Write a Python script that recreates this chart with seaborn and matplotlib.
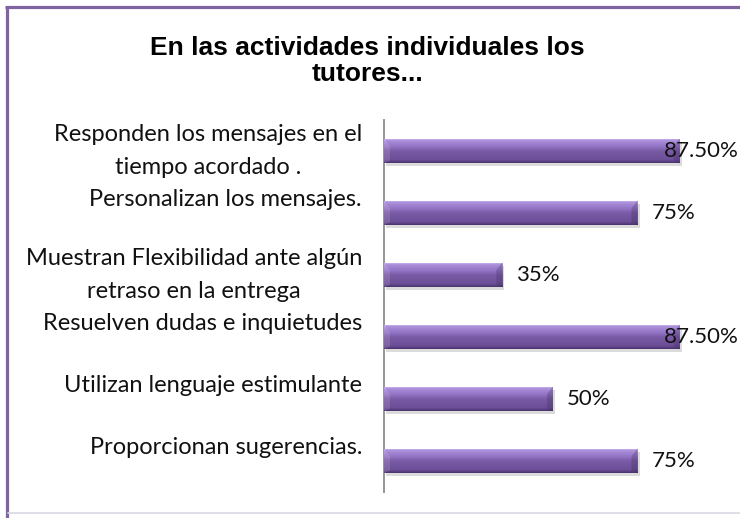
import numpy as np
import matplotlib
matplotlib.use("Agg")
import matplotlib.pyplot as plt
import matplotlib.transforms as mtransforms
from matplotlib.colors import LinearSegmentedColormap
from matplotlib.lines import Line2D
from matplotlib.patches import Polygon
import seaborn as sns

categories = [
    "Responden los mensajes en el\ntiempo acordado .",
    "Personalizan los mensajes.",
    "Muestran Flexibilidad ante algún\nretraso en la entrega",
    "Resuelven dudas e inquietudes",
    "Utilizan lenguaje estimulante",
    "Proporcionan sugerencias.",
]
values = [87.5, 75, 35, 87.5, 50, 75]
value_labels = ["87.50%", "75%", "35%", "87.50%", "50%", "75%"]
title = "En las actividades individuales los\ntutores..."

sns.set_theme(style="white")
plt.rcParams["font.family"] = ["Lato", "DejaVu Sans"]

DPI = 100
W, H = 740, 518
fig = plt.figure(figsize=(W / DPI, H / DPI), dpi=DPI)
fig.patch.set_facecolor("white")

ax = fig.add_axes([384 / W, (H - 492) / H, 338 / W, 372 / H])
sns.barplot(x=values, y=categories, orient="h", width=0.4, color="#7a5ca8",
            ax=ax, edgecolor="none", linewidth=0)

ax.set_xlim(0, 100)
ax.set_ylim(5.5, -0.5)

# gradient fill for a 3D look
cmap = LinearSegmentedColormap.from_list(
    "bar3d",
    [(0.0, "#d2bdf5"), (0.1, "#ab8fda"), (0.35, "#9172c4"),
     (0.5, "#7a5ca6"), (0.88, "#6b4e97"), (1.0, "#4a336d")])
grad = np.linspace(0, 1, 64).reshape(-1, 1)
bevel = 6 / 338 * 100  # bevel depth (~6 px) in data units
for p in list(ax.patches):
    x0, y0 = p.get_x(), p.get_y()
    w, h = p.get_width(), p.get_height()
    x1, y1 = x0 + w, y0 + h
    sh = plt.Rectangle((x0, y0), w, h, facecolor="#9a9a9a", alpha=0.35,
                       edgecolor="none", zorder=1,
                       transform=ax.transData + mtransforms.ScaledTranslation(2 / DPI, -3 / DPI, fig.dpi_scale_trans))
    ax.add_patch(sh)
    p.set_zorder(2)
    im = ax.imshow(grad, cmap=cmap, aspect="auto", origin="upper",
                   extent=(x0, x1, y1, y0), zorder=3, interpolation="bilinear")
    im.set_clip_path(p)
    # bevelled ends
    ax.add_patch(Polygon([(x1 - bevel, y0 + 0.3 * h), (x1, y0), (x1, y1), (x1 - bevel, y1 - 0.12 * h)],
                         closed=True, facecolor="#3c2a5a", alpha=0.28, edgecolor="none", zorder=4))
    ax.add_patch(Polygon([(x0, y0), (x0 + bevel, y0 + 0.3 * h), (x0 + bevel, y1 - 0.12 * h), (x0, y1)],
                         closed=True, facecolor="#ffffff", alpha=0.12, edgecolor="none", zorder=4))

ax.set_xlim(0, 100)
ax.set_ylim(5.5, -0.5)

ax.set_xticks([])
ax.set_yticks([])
ax.set_xlabel("")
ax.set_ylabel("")
for s in ["top", "right", "bottom"]:
    ax.spines[s].set_visible(False)
ax.spines["left"].set_color("#8c8c8c")
ax.spines["left"].set_linewidth(1.3)
ax.set_facecolor("none")

# category labels
blend = mtransforms.blended_transform_factory(ax.transAxes, ax.transData)
for i, c in enumerate(categories):
    nlines = c.count("\n") + 1
    dy = 0 if nlines > 1 else 13 * 72 / DPI
    ax.annotate(c, xy=(0, i), xycoords=blend, xytext=(-22 * 72 / DPI, dy),
                textcoords="offset points", ha="right", va="center",
                multialignment="center", fontsize=17, color="#111111",
                linespacing=1.7)

# value labels
fig.canvas.draw()
renderer = fig.canvas.get_renderer()
for i, (v, lab) in enumerate(zip(values, value_labels)):
    t = ax.annotate(lab, xy=(v, i), xycoords="data", xytext=(14 * 72 / DPI, 0),
                    textcoords="offset points", ha="left", va="center",
                    fontsize=16, color="#111111", zorder=5, annotation_clip=False)
    bb = t.get_window_extent(renderer)
    if bb.x1 > W - 1:
        shift = (bb.x1 - (W - 1)) * 72 / DPI
        t.set_position((14 * 72 / DPI - shift, 0))

# title
fig.text(0.497, 1 - 61 / H, title, ha="center", va="center", fontsize=19,
         fontweight="bold", family=["Liberation Sans", "DejaVu Sans"],
         linespacing=1.15, color="black")

# chart frame
fig.add_artist(Line2D([5 / W, 1], [1 - 7 / H, 1 - 7 / H], transform=fig.transFigure,
                      color="#8064a2", linewidth=2.3, solid_capstyle="butt"))
fig.add_artist(Line2D([7 / W, 7 / W], [1 - 6 / H, 0], transform=fig.transFigure,
                      color="#8064a2", linewidth=2.3, solid_capstyle="butt"))
fig.add_artist(Line2D([8 / W, 1], [1 - 513 / H, 1 - 513 / H], transform=fig.transFigure,
                      color="#d8d8e4", linewidth=1.2))

fig.savefig("out.png", dpi=DPI)
